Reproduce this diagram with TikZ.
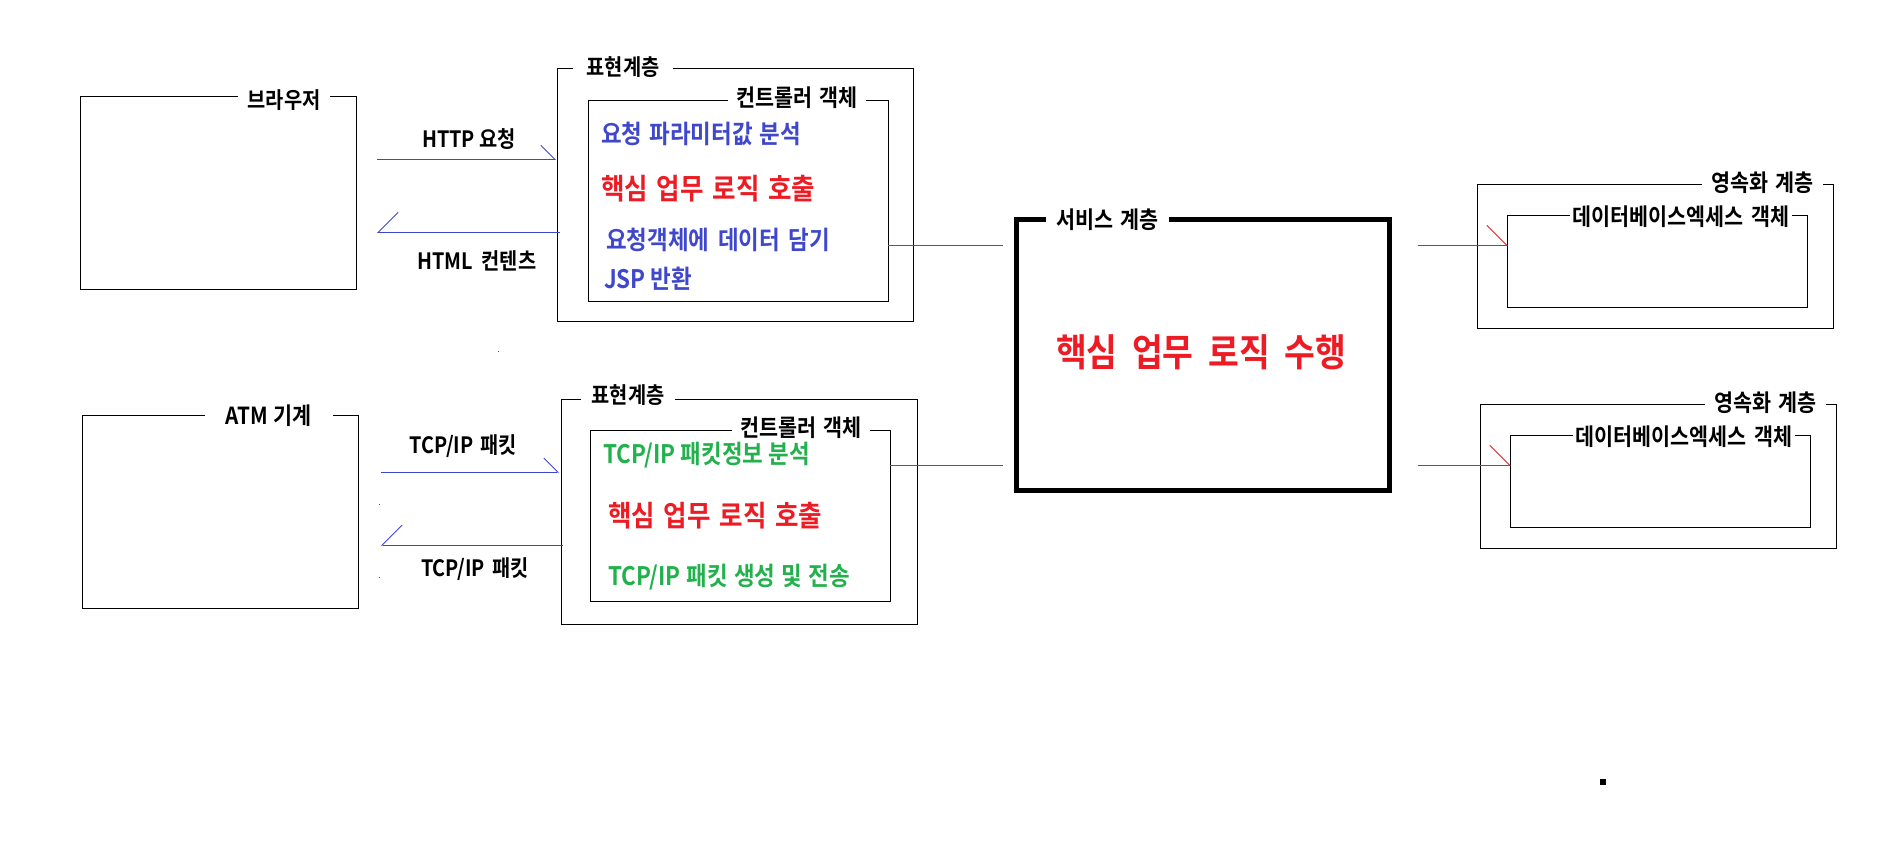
\documentclass[tikz,border=0pt]{standalone}
\usepackage{fontspec}
\usetikzlibrary{arrows.meta}
\newfontfamily\krb{Noto Sans CJK KR}[FakeStretch=0.88,UprightFont={* Bold}]
\definecolor{pblue}{HTML}{3F48CC}
\definecolor{pred}{HTML}{ED1C24}
\definecolor{pgreen}{HTML}{22B14C}
\newcommand\wsp[1]{\hspace{#1pt}}
\begin{document}
\begin{tikzpicture}[x=1pt,y=-1pt,
  box/.style={draw,line width=1pt,inner sep=0pt},
  thickbox/.style={draw,line width=5pt,inner sep=0pt},
  ttl/.style={fill=white,inner xsep=0pt,inner ysep=1pt,font=\krb\fontsize{23.5}{26}\selectfont},
  ttlsmall/.style={ttl,font=\krb\fontsize{22.5}{25}\selectfont},
  lbl/.style={inner sep=0pt,font=\krb\fontsize{22.5}{25}\selectfont},
  txt/.style={anchor=west,inner sep=0pt,font=\krb\fontsize{25.5}{29}\selectfont},
  core/.style={anchor=west,inner sep=0pt,text=pred,font=\krb\fontsize{29}{33}\selectfont},
  bline/.style={draw=pblue,line width=1pt},
  rline/.style={draw=pred,line width=1pt},
  barbS/.style={-{Straight Barb[left,length=14pt,width=28pt]}},
  barbL/.style={-{Straight Barb[right,length=20pt,width=40pt]}},
  barbR/.style={-{Straight Barb[left,length=20pt,width=40pt]}}]
\useasboundingbox[fill=white] (0,0) rectangle (1900,852);

% boxes
\node[box,minimum width=276pt,minimum height=193pt] (brw) at (218.3,192.8) {};
\node[box,minimum width=276pt,minimum height=193pt] (atm) at (220,511.5) {};
\node[box,minimum width=356pt,minimum height=253pt] (pres1) at (735,195.3) {};
\node[box,minimum width=300pt,minimum height=201pt] (ctrl1) at (738,200.5) {};
\node[box,minimum width=356pt,minimum height=225pt] (pres2) at (739,511.5) {};
\node[box,minimum width=300pt,minimum height=171pt] (ctrl2) at (740,515.5) {};
\node[thickbox,minimum width=373pt,minimum height=271pt] (svc) at (1203.2,355) {};
\node[box,minimum width=356pt,minimum height=144pt] (per1) at (1655,256) {};
\node[box,minimum width=300pt,minimum height=92pt] (dao1) at (1657,261) {};
\node[box,minimum width=356pt,minimum height=144pt] (per2) at (1658,476) {};
\node[box,minimum width=300pt,minimum height=92pt] (dao2) at (1660,481) {};

% titles
\node[ttlsmall,minimum width=92pt] (tbrw) at (284,100) {브라우저};
\node[ttl,minimum width=128pt] (tatm) at (268.5,416) {ATM\wsp{1} 기계};
\node[ttlsmall,minimum width=100pt] (tpres1) at (623,67) {표현계층};
\node[ttl,minimum width=138pt] (tctrl1) at (797,98) {컨트롤러\wsp{2} 객체};
\node[ttlsmall,minimum width=94pt] (tpres2) at (628,395) {표현계층};
\node[ttl,minimum width=138pt] (tctrl2) at (801,428) {컨트롤러\wsp{2} 객체};
\node[ttl,minimum width=123pt] (tsvc) at (1107.5,220) {서비스\wsp{2} 계층};
\node[ttl,minimum width=121pt] (tper1) at (1762.5,183) {영속화\wsp{3} 계층};
\node[ttl,minimum width=222pt] (tdao1) at (1681,217) {데이터베이스엑세스\wsp{3} 객체};
\node[ttl,minimum width=121pt] (tper2) at (1765.5,403) {영속화\wsp{3} 계층};
\node[ttl,minimum width=222pt] (tdao2) at (1684,437) {데이터베이스엑세스\wsp{3} 객체};

% controller texts
\node[txt,text=pblue] (c1a) at (601,134) {요청\wsp{2} 파라미터값\wsp{2} 분석};
\node[core] (c1b) at (601,189) {핵심\wsp{3} 업무\wsp{3} 로직\wsp{3} 호출};
\node[txt,text=pblue] (c1c) at (606,240) {요청객체에\wsp{3.5} 데이터\wsp{3.5} 담기};
\node[txt,text=pblue] (c1d) at (604,279) {JSP 반환};
\node[txt,text=pgreen] (c2a) at (603,455) {TCP/IP 패킷정보 분석};
\node[core] (c2b) at (608,516) {핵심\wsp{3} 업무\wsp{3} 로직\wsp{3} 호출};
\node[txt,text=pgreen] (c2c) at (608,577) {TCP/IP\wsp{1} 패킷\wsp{1} 생성\wsp{1} 및\wsp{1} 전송};
\node[inner sep=0pt,text=pred,font=\krb\fontsize{38}{43}\selectfont] (svctxt) at (1201,352) {핵심\wsp{7} 업무\wsp{7} 로직\wsp{7} 수행};

% arrow labels
\node[lbl] (l1) at (469,139) {HTTP 요청};
\node[lbl] (l2) at (477,261) {HTML\wsp{4} 컨텐츠};
\node[lbl] (l3) at (463,446) {TCP/IP\wsp{2} 패킷};
\node[lbl] (l4) at (475,569) {TCP/IP\wsp{3} 패킷};

% connector end points
\coordinate (a1s) at (377,159.3);  \coordinate (a1e) at (556,159.3);
\coordinate (a2s) at (560,232.3);  \coordinate (a2e) at (377,232.3);
\coordinate (a3s) at (381,472);    \coordinate (a3e) at (559,472);
\coordinate (a4s) at (563,545);    \coordinate (a4e) at (381,545);
\coordinate (r1s) at (888,245.5);  \coordinate (r1e) at (1002.5,245.5);
\coordinate (r2s) at (890,465.3);  \coordinate (r2e) at (1002.5,465.3);
\coordinate (r3s) at (1417.5,245.3); \coordinate (r3e) at (1508,245.3);
\coordinate (r4s) at (1417.5,465.3); \coordinate (r4e) at (1511,465.3);

\draw[bline,barbS] (a1s) -- (a1e);
\draw[bline,barbL] (a2s) -- (a2e);
\draw[bline,barbS] (a3s) -- (a3e);
\draw[bline,barbL] (a4s) -- (a4e);
\draw[rline] (r1s) -- (r1e);
\draw[rline] (r2s) -- (r2e);
\draw[rline,barbR] (r3s) -- (r3e);
\draw[rline,barbR] (r4s) -- (r4e);

% stray dots
\fill (1600,779) rectangle (1606,785);
\fill[pblue] (378.5,503.5) rectangle (380,505);
\fill[pblue] (378.5,576.5) rectangle (380,578);
\fill[pblue] (497.5,350.5) rectangle (499,352);
\end{tikzpicture}
\end{document}
